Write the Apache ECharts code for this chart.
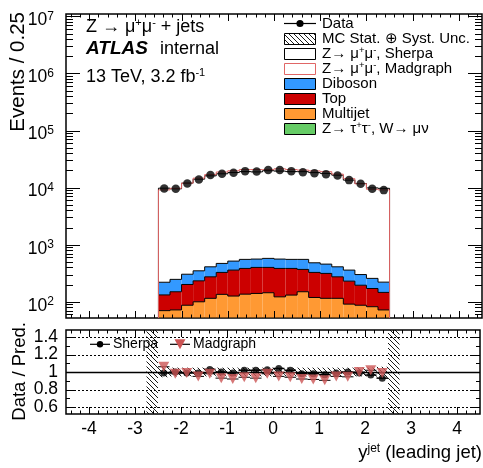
<!DOCTYPE html>
<html><head><meta charset="utf-8">
<script src="https://cdn.jsdelivr.net/npm/echarts@6/dist/echarts.min.js"></script>
<style>html,body{margin:0;padding:0;background:#fff}#c{width:483px;height:468px}</style>
</head><body><div id="c"></div>
<script>
// ---------------- data ----------------
const binEdges = [-2.5,-2.25,-2,-1.75,-1.5,-1.25,-1,-0.75,-0.5,-0.25,0,0.25,0.5,0.75,1,1.25,1.5,1.75,2,2.25,2.5];
const dataCounts    = [9680,9530,11860,13930,16560,17460,18170,19450,19220,20270,20270,19450,18660,17940,17230,16370,13530,11670,9530,9040];
const sherpaZmumu   = [9560,9280,11680,13720,15670,16990,17830,18520,18280,19200,18930,18520,18490,17830,17300,16130,13170,11490,9620,9500];
const madgraphZmumu = [8910,9480,11680,14310,16490,18300,19230,20140,20110,20110,20780,20140,19730,19130,18580,16820,13960,11370,9090,8910];
const diboson       = [88,97,103,116,136,143,157,169,160,176,176,169,184,155,143,136,129,105,86,75];
const topQuark      = [62,78,114,133,159,192,233,248,260,256,262,253,219,208,199,159,139,108,89,74];
const multijet      = [64,66,80,92,106,126,116,126,130,134,112,121,140,110,106,107,83,80,76,66];
const ztautauWmunu  = [6,6,7,8,9,9,10,10,10,10,10,10,10,9,9,8,8,7,6,6];
const ratioSherpa   = [0.99,1.0,0.99,0.99,1.03,1.0,0.99,1.02,1.02,1.025,1.04,1.02,0.98,0.98,0.97,0.99,1.0,0.99,0.965,0.93];
const ratioMadgraph = [1.06,0.98,0.99,0.95,0.98,0.93,0.92,0.94,0.93,0.98,0.95,0.94,0.92,0.915,0.905,0.95,0.945,1.0,1.02,0.99];
const bandEdges = [-2.75,-2.5,-2.25,-2,-1.75,-1.5,-1.25,-1,-0.75,-0.5,-0.25,0,0.25,0.5,0.75,1,1.25,1.5,1.75,2,2.25,2.5,2.75];
const bandLow  = [0.52,0.94,0.95,0.95,0.95,0.95,0.95,0.95,0.95,0.95,0.95,0.95,0.95,0.95,0.95,0.95,0.95,0.95,0.95,0.95,0.94,0.52];
const bandHigh = [1.48,1.06,1.05,1.05,1.05,1.05,1.05,1.05,1.05,1.05,1.05,1.05,1.05,1.05,1.05,1.05,1.05,1.05,1.05,1.05,1.06,1.48];
const xTickLabels = ['-4','-3','-2','-1','0','1','2','3','4'];
const yTickExponents = [2,3,4,5,6,7];
const ratioTickLabels = ['0.6','0.8','1','1.2','1.4'];
const legendLabels = ['Data','MC Stat. \u2295 Syst. Unc.','Z\u2192 \u03bc{s|+}\u03bc{s|-}, Sherpa','Z\u2192 \u03bc{s|+}\u03bc{s|-}, Madgraph','Diboson','Top','Multijet','Z\u2192 \u03c4{s|+}\u03c4{s|-}, W\u2192 \u03bc\u03bd'];
const ratioLegendLabels = ['Sherpa','Madgraph'];

// ---------------- styling ----------------
const FF = "'Liberation Sans', Arial, Helvetica, sans-serif";
const C_DIB = '#3399ff', C_TOP = '#cc0000', C_MJ = '#ff9933', C_ZTT = '#66cc66', C_MG = '#e06666', C_MGM = '#cc5555';
const YMIN = 52, YMAX = 1.1e7, RMIN = 0.52, RMAX = 1.48;

function makeHatch(){
  const s=5, c=document.createElement('canvas'); c.width=s; c.height=s;
  const g=c.getContext('2d'); g.strokeStyle='#000'; g.lineWidth=0.9;
  g.beginPath(); g.moveTo(-1,-1); g.lineTo(s+1,s+1); g.moveTo(-1,s-1); g.lineTo(1,s+1); g.moveTo(s-1,-1); g.lineTo(s+1,1); g.stroke();
  return c;
}
const hatch = makeHatch();
const hatchFill = {image: hatch, repeat: 'repeat'};

const nb = dataCounts.length;
const centers = dataCounts.map((_, i) => (binEdges[i] + binEdges[i+1]) / 2);

// stacked components (bottom -> top)
const comps = [ztautauWmunu, multijet, topQuark, diboson, sherpaZmumu];
const compFill = [C_ZTT, C_MJ, C_TOP, C_DIB, '#ffffff'];
const cum = [];
let run = new Array(nb).fill(0);
comps.forEach(arr => { run = run.map((v, i) => v + arr[i]); cum.push(run.slice()); });
const bkgTotal = cum[3];
const madgraphTotal = madgraphZmumu.map((v, i) => v + bkgTotal[i]);

function stepRows(lowArr, highArr) {
  return highArr.map((h, i) => [binEdges[i], binEdges[i+1], lowArr ? lowArr[i] : YMIN, h, i > 0 ? highArr[i-1] : (lowArr ? lowArr[i] : YMIN), i === nb - 1 ? 1 : 0]);
}
function stepRender(fill, stroke, lw) {
  return function (params, api) {
    const cl = v => Math.min(Math.max(v, YMIN), YMAX);
    const x0 = api.value(0), x1 = api.value(1);
    const lo = cl(api.value(2)), hi = cl(api.value(3)), prev = cl(api.value(4)), last = api.value(5);
    const pLo0 = api.coord([x0, lo]), pHi0 = api.coord([x0, hi]), pHi1 = api.coord([x1, hi]), pLo1 = api.coord([x1, lo]), pPrev = api.coord([x0, prev]);
    const ch = [];
    if (fill) ch.push({type:'rect', z2: 0, shape:{x:pLo0[0], y:pHi1[1], width:pHi1[0]-pLo0[0], height:pLo0[1]-pHi1[1]}, style:{fill: fill}});
    const ls = {stroke: stroke, lineWidth: lw, fill: null};
    ch.push({type:'line', z2: 10, shape:{x1:pHi0[0], y1:pHi0[1], x2:pHi1[0], y2:pHi1[1]}, style: ls});
    ch.push({type:'line', z2: 10, shape:{x1:pPrev[0], y1:pPrev[1], x2:pHi0[0], y2:pHi0[1]}, style: ls});
    if (last) ch.push({type:'line', z2: 10, shape:{x1:pHi1[0], y1:pHi1[1], x2:pLo1[0], y2:pLo1[1]}, style: ls});
    return {type:'group', children: ch};
  };
}

function ticksMain(params, api) {
  const cs = params.coordSys; const L = cs.x, R = cs.x + cs.width, T = cs.y, B = cs.y + cs.height;
  const ch = []; const st = {stroke:'#000', lineWidth:1};
  const line = (x1,y1,x2,y2) => ch.push({type:'line', shape:{x1,y1,x2,y2}, style:st});
  for (let k = -22; k <= 22; k++) {
    const xv = k * 0.2; const px = Math.round(api.coord([xv, 1000])[0]) + 0.5;
    if (px < L + 1 || px > R - 1) continue;
    const major = Math.abs(xv - Math.round(xv)) < 1e-9; const len = major ? 7 : 3.5;
    line(px, B, px, B - len); line(px, T, px, T + len);
  }
  for (let e = 1; e <= 7; e++) for (let m = 1; m <= 9; m++) {
    const v = m * Math.pow(10, e); const py = Math.round(api.coord([0, v])[1]) + 0.5;
    if (py < T + 1 || py > B - 1) continue;
    const len = m === 1 ? 14 : 7;
    line(L, py, L + len, py); line(R, py, R - len, py);
  }
  return {type:'group', children: ch};
}
function ticksRatio(params, api) {
  const cs = params.coordSys; const L = cs.x, R = cs.x + cs.width, T = cs.y, B = cs.y + cs.height;
  const ch = [];
  const line = (x1,y1,x2,y2,st) => ch.push({type:'line', shape:{x1,y1,x2,y2}, style:st||{stroke:'#000', lineWidth:1}});
  ratioTickLabels.forEach(t => {
    const v = parseFloat(t); const py = Math.round(api.coord([0, v])[1]) + 0.5;
    if (v === 1) line(L, py, R, py, {stroke:'#000', lineWidth:1.6});
    else line(L, py, R, py, {stroke:'#000', lineWidth:1, lineDash:[2,2]});
  });
  for (let k = -22; k <= 22; k++) {
    const xv = k * 0.2; const px = Math.round(api.coord([xv, 1])[0]) + 0.5;
    if (px < L + 1 || px > R - 1) continue;
    const major = Math.abs(xv - Math.round(xv)) < 1e-9; const len = major ? 7 : 3.5;
    line(px, B, px, B - len); line(px, T, px, T + len);
  }
  for (let k = 6; k <= 14; k++) {
    const v = k / 10; const py = Math.round(api.coord([0, v])[1]) + 0.5;
    const len = k % 2 === 0 ? 8 : 4;
    line(L, py, L + len, py); line(R, py, R - len, py);
  }
  return {type:'group', children: ch};
}
function xErrRender(color, lw) {
  return function (params, api) {
    const a = api.coord([api.value(0), api.value(2)]), b = api.coord([api.value(1), api.value(2)]);
    return {type:'line', shape:{x1:a[0], y1:a[1], x2:b[0], y2:b[1]}, style:{stroke:color, lineWidth:lw}};
  };
}

const series = [];
comps.forEach((arr, k) => {
  series.push({
    type:'custom', name: ['Z\u2192\u03c4\u03c4, W\u2192\u03bc\u03bd','Multijet','Top','Diboson','Z\u2192\u03bc\u03bc, Sherpa'][k],
    xAxisIndex:0, yAxisIndex:0, z:2, clip:true,
    encode:{x:0, y:3},
    data: stepRows(k === 0 ? new Array(nb).fill(0) : cum[k-1], cum[k]),
    renderItem: stepRender(compFill[k], '#000', 1)
  });
});
series.push({type:'custom', name:'Z\u2192\u03bc\u03bc, Madgraph', xAxisIndex:0, yAxisIndex:0, z:3, clip:true, encode:{x:0, y:3},
  data: stepRows(null, madgraphTotal), renderItem: stepRender(null, C_MG, 1)});
series.push({type:'scatter', name:'Data', xAxisIndex:0, yAxisIndex:0, z:6, symbol:'circle', symbolSize:8.5,
  itemStyle:{color:'#000'}, data: dataCounts.map((v, i) => [centers[i], v])});
series.push({type:'custom', name:'ticksMain', xAxisIndex:0, yAxisIndex:0, z:8, data:[[0, 1000]], renderItem: ticksMain, silent:true});

series.push({type:'custom', name:'MC Stat. \u2295 Syst. Unc.', xAxisIndex:1, yAxisIndex:1, z:1, encode:{x:0, y:3},
  data: bandLow.map((lo, i) => [bandEdges[i], bandEdges[i+1], lo, bandHigh[i]]),
  renderItem: (params, api) => {
    const a = api.coord([api.value(0), api.value(3)]), b = api.coord([api.value(1), api.value(2)]);
    return {type:'rect', shape:{x:a[0], y:a[1], width:b[0]-a[0], height:b[1]-a[1]}, style:{fill: hatchFill}};
  }});
series.push({type:'custom', name:'ticksRatio', xAxisIndex:1, yAxisIndex:1, z:2, data:[[0, 1]], renderItem: ticksRatio, silent:true});
series.push({type:'custom', name:'Sherpa err', xAxisIndex:1, yAxisIndex:1, z:3, encode:{x:0, y:2},
  data: ratioSherpa.map((r, i) => [binEdges[i], binEdges[i+1], r]), renderItem: xErrRender('#000', 1.5)});
series.push({type:'custom', name:'Madgraph err', xAxisIndex:1, yAxisIndex:1, z:3, encode:{x:0, y:2},
  data: ratioMadgraph.map((r, i) => [binEdges[i], binEdges[i+1], r]), renderItem: xErrRender('#000', 1)});
series.push({type:'scatter', name:'Sherpa', xAxisIndex:1, yAxisIndex:1, z:4, symbol:'circle', symbolSize:7,
  itemStyle:{color:'#000'}, data: ratioSherpa.map((r, i) => [centers[i], r])});
series.push({type:'scatter', name:'Madgraph', xAxisIndex:1, yAxisIndex:1, z:5, symbol:'triangle', symbolRotate:180, symbolSize:[11, 10],
  itemStyle:{color:C_MGM}, data: ratioMadgraph.map((r, i) => [centers[i], r])});

// ---------------- graphic texts & legends ----------------
const supRich = (fs, lh) => ({s:{fontSize:fs, lineHeight:lh, verticalAlign:'top', fontFamily:FF, fill:'#000'}});
const graphic = [];
graphic.push({type:'text', x:18, y:12, rotation:Math.PI/2, style:{text:'Events / 0.25', fontSize:20.5, fontFamily:FF, fill:'#000', align:'right', verticalAlign:'middle'}});
graphic.push({type:'text', x:19.5, y:322, rotation:Math.PI/2, style:{text:'Data / Pred.', fontSize:18.5, fontFamily:FF, fill:'#000', align:'right', verticalAlign:'middle'}});
graphic.push({type:'text', x:482, y:453, style:{text:'y{s|jet} (leading jet)', fontSize:18.5, lineHeight:20, fontFamily:FF, fill:'#000', align:'right', verticalAlign:'middle', rich: supRich(12, 10)}});
graphic.push({type:'text', x:86, y:27.5, style:{text:'Z \u2192 \u03bc{s|+}\u03bc{s|-} + jets', fontSize:18, lineHeight:20, fontFamily:FF, fill:'#000', verticalAlign:'middle', rich: supRich(11, 10)}});
graphic.push({type:'text', x:86, y:49, style:{text:'ATLAS', fontSize:19, fontWeight:'bold', fontStyle:'italic', fontFamily:FF, fill:'#000', verticalAlign:'middle'}});
graphic.push({type:'text', x:160, y:49, style:{text:'internal', fontSize:18, fontFamily:FF, fill:'#000', verticalAlign:'middle'}});
graphic.push({type:'text', x:86, y:77, style:{text:'13 TeV, 3.2 fb{s|-1}', fontSize:18, lineHeight:20, fontFamily:FF, fill:'#000', verticalAlign:'middle', rich: supRich(11, 10)}});

const legendBoxStyle = [
  null,
  {fill: hatchFill, stroke:'#000', lineWidth:1},
  {fill:'#fff', stroke:'#000', lineWidth:1},
  {fill:'#fff', stroke:C_MG, lineWidth:1},
  {fill:C_DIB, stroke:'#000', lineWidth:1},
  {fill:C_TOP, stroke:'#000', lineWidth:1},
  {fill:C_MJ, stroke:'#000', lineWidth:1},
  {fill:C_ZTT, stroke:'#000', lineWidth:1}
];
legendLabels.forEach((lab, i) => {
  const cy = 23.5 + 15 * i;
  if (legendBoxStyle[i]) {
    graphic.push({type:'rect', shape:{x:284.5, y:Math.round(cy - 5.5) + 0.5, width:31, height:11}, style: legendBoxStyle[i]});
  } else {
    graphic.push({type:'line', shape:{x1:284, y1:cy, x2:316, y2:cy}, style:{stroke:'#000', lineWidth:1.2}});
    graphic.push({type:'circle', shape:{cx:300, cy:cy, r:3.6}, style:{fill:'#000'}});
  }
  graphic.push({type:'text', x:322, y:cy, style:{text:lab, fontSize:15, lineHeight:16, fontFamily:FF, fill:'#000', verticalAlign:'middle', rich: supRich(9.5, 9)}});
});
const rly = 344.3;
graphic.push({type:'line', shape:{x1:90, y1:rly, x2:110, y2:rly}, style:{stroke:'#000', lineWidth:1.2}});
graphic.push({type:'circle', shape:{cx:100, cy:rly, r:3.2}, style:{fill:'#000'}});
graphic.push({type:'text', x:113, y:rly, style:{text:ratioLegendLabels[0], fontSize:14, fontFamily:FF, fill:'#000', verticalAlign:'middle'}});
graphic.push({type:'line', shape:{x1:170, y1:rly, x2:190, y2:rly}, style:{stroke:'#000', lineWidth:1.2}});
graphic.push({type:'polygon', shape:{points:[[174.5, rly - 5], [185.5, rly - 5], [180, rly + 5]]}, style:{fill:C_MGM}});
graphic.push({type:'text', x:193, y:rly, style:{text:ratioLegendLabels[1], fontSize:14, fontFamily:FF, fill:'#000', verticalAlign:'middle'}});

const option = {
  animation: false,
  backgroundColor: '#fff',
  grid: [
    {left:66, top:14, width:416, height:304, show:true, borderColor:'#000', borderWidth:1.5, backgroundColor:'transparent'},
    {left:66, top:330, width:416, height:84, show:true, borderColor:'#000', borderWidth:1.5, backgroundColor:'transparent'}
  ],
  xAxis: [
    {type:'value', gridIndex:0, min:-4.5, max:4.5, interval:0.5, axisLabel:{show:false}, axisTick:{show:false}, axisLine:{show:false}, splitLine:{show:false}},
    {type:'value', gridIndex:1, min:-4.5, max:4.5, interval:0.5,
      axisLabel:{show:true, margin:6, fontSize:17.5, fontFamily:FF, color:'#000',
        formatter: v => { const lab = xTickLabels.find(t => Math.abs(parseFloat(t) - v) < 1e-6); return lab || ''; }},
      axisTick:{show:false}, axisLine:{show:false}, splitLine:{show:false}}
  ],
  yAxis: [
    {type:'log', logBase:10, gridIndex:0, min:YMIN, max:YMAX,
      axisLabel:{show:true, showMinLabel:false, showMaxLabel:false, margin:12, padding:[8,0,0,0],
        formatter: v => { const lv = Math.log10(v); const e = Math.round(lv); return (Math.abs(lv - e) < 1e-6 && yTickExponents.includes(e)) ? '{b|10}{s|' + e + '}' : ''; },
        rich:{b:{fontSize:17.5, lineHeight:20, fontFamily:FF, color:'#000'}, s:{fontSize:12, lineHeight:11, verticalAlign:'top', fontFamily:FF, color:'#000'}}},
      axisTick:{show:false}, axisLine:{show:false}, splitLine:{show:false}},
    {type:'value', gridIndex:1, min:RMIN, max:RMAX, interval:0.04,
      axisLabel:{show:true, margin:8, padding:[3,0,0,0], fontSize:17.5, fontFamily:FF, color:'#000',
        formatter: v => { const lab = ratioTickLabels.find(t => Math.abs(parseFloat(t) - v) < 1e-6); return lab || ''; }},
      axisTick:{show:false}, axisLine:{show:false}, splitLine:{show:false}}
  ],
  series: series,
  graphic: graphic
};
const chart = echarts.init(document.getElementById('c'), null, {renderer:'canvas'});
chart.setOption(option);
</script>
</body></html>
